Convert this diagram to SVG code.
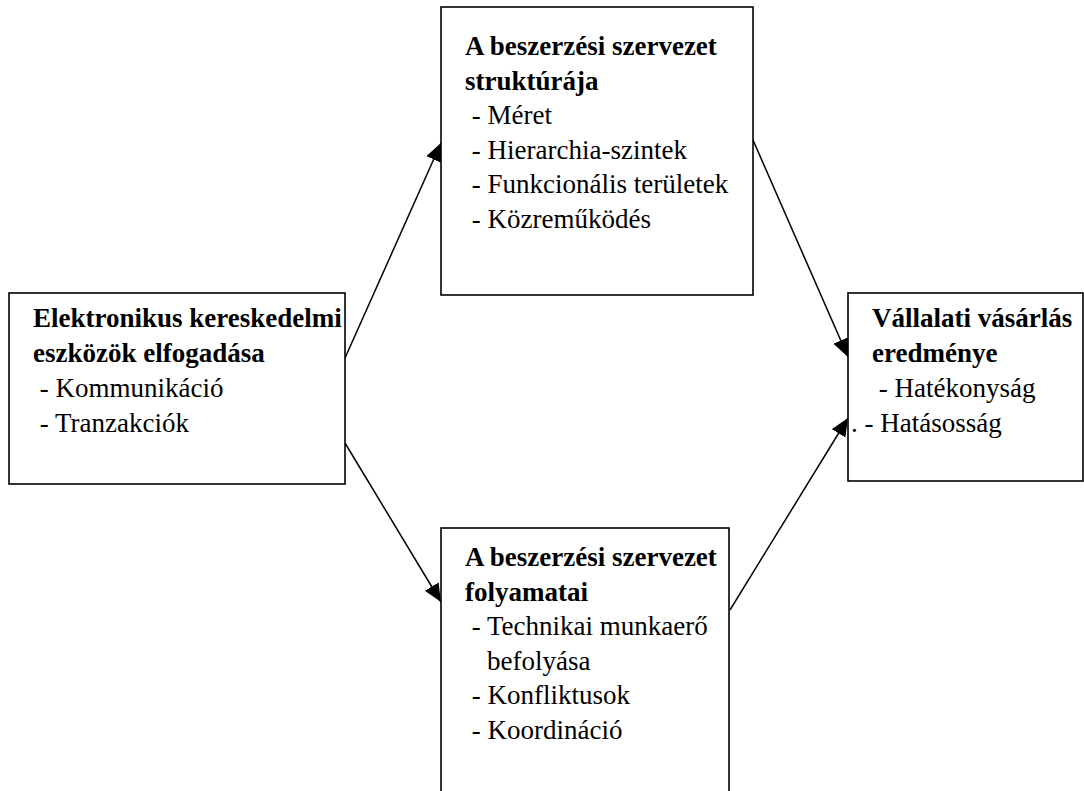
<svg xmlns="http://www.w3.org/2000/svg" width="1084" height="791" viewBox="0 0 1084 791">
<style>
.box{fill:#fff;stroke:#000;stroke-width:1.6}
.t{font-family:"Liberation Serif","Times New Roman",serif;font-size:27px;fill:#000}
.b{font-weight:bold}
.conn{stroke:#000;stroke-width:1.5;fill:none}
</style>
<defs>
<marker id="ah" markerUnits="userSpaceOnUse" markerWidth="20" markerHeight="18" refX="18" refY="8" orient="auto">
<path d="M0,0 L18,8 L0,16 Z" fill="#000"/>
</marker>
</defs>
<rect width="1084" height="791" fill="#fff"/>
<g id="connectors">
<line class="conn" x1="345" y1="358" x2="441" y2="143" marker-end="url(#ah)"/>
<line class="conn" x1="345" y1="443" x2="441" y2="602" marker-end="url(#ah)"/>
<line class="conn" x1="753" y1="140" x2="848" y2="357" marker-end="url(#ah)"/>
<line class="conn" x1="730" y1="610" x2="848" y2="418" marker-end="url(#ah)"/>
</g>
<g id="node-left">
<rect class="box" x="9" y="293" width="336" height="191"/>
<text class="t b" x="33" y="327">Elektronikus kereskedelmi</text>
<text class="t b" x="33" y="362">eszközök elfogadása</text>
<text class="t" x="33" y="397" xml:space="preserve"> - Kommunikáció</text>
<text class="t" x="33" y="432" xml:space="preserve"> - Tranzakciók</text>
</g>
<g id="node-top">
<rect class="box" x="441" y="7" width="312" height="288"/>
<text class="t b" x="465" y="55">A beszerzési szervezet</text>
<text class="t b" x="465" y="89.5">struktúrája</text>
<text class="t" x="465" y="124" xml:space="preserve"> - Méret</text>
<text class="t" x="465" y="158.5" xml:space="preserve"> - Hierarchia-szintek</text>
<text class="t" x="465" y="193" xml:space="preserve"> - Funkcionális területek</text>
<text class="t" x="465" y="227.5" xml:space="preserve"> - Közreműködés</text>
</g>
<g id="node-bottom">
<rect class="box" x="441" y="528" width="288" height="280"/>
<text class="t b" x="465" y="566">A beszerzési szervezet</text>
<text class="t b" x="465" y="600.5">folyamatai</text>
<text class="t" x="465" y="635" xml:space="preserve"> - Technikai munkaerő</text>
<text class="t" x="487" y="669.5">befolyása</text>
<text class="t" x="465" y="704" xml:space="preserve"> - Konfliktusok</text>
<text class="t" x="465" y="738.5" xml:space="preserve"> - Koordináció</text>
</g>
<g id="node-right">
<rect class="box" x="848" y="293" width="235" height="188"/>
<text class="t b" x="872" y="327">Vállalati vásárlás</text>
<text class="t b" x="872" y="362">eredménye</text>
<text class="t" x="872" y="397" xml:space="preserve"> - Hatékonyság</text>
<text class="t" x="851" y="432" xml:space="preserve">. - Hatásosság</text>
</g>
</svg>
